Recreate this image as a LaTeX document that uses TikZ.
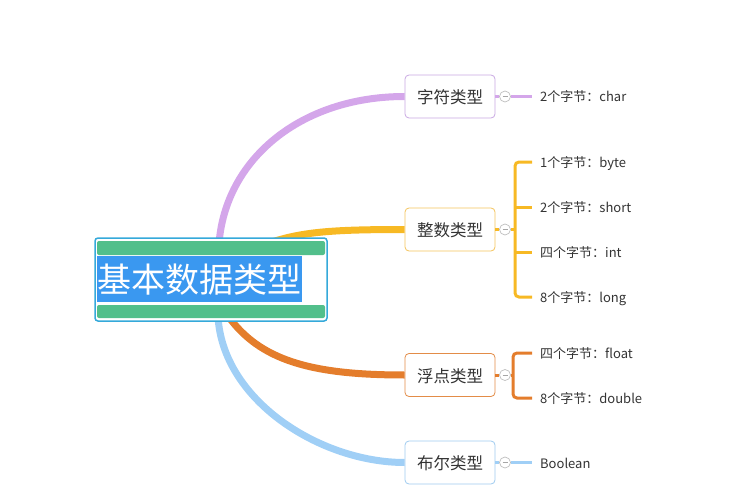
\documentclass[tikz,border=0pt]{standalone}
\usepackage{fontspec}
\setmainfont{Noto Sans CJK SC}
\usetikzlibrary{backgrounds}
\definecolor{purp}{HTML}{D4A6EA}
\definecolor{purpb}{HTML}{C9A8E2}
\definecolor{yel}{HTML}{F7B924}
\definecolor{yelb}{HTML}{F4C45C}
\definecolor{ora}{HTML}{E47D2C}
\definecolor{orab}{HTML}{E38C48}
\definecolor{lblue}{HTML}{A0CFF6}
\definecolor{lblueb}{HTML}{9FCBF0}
\definecolor{rootborder}{HTML}{35A9DA}
\definecolor{rootgreen}{HTML}{52BF8B}
\definecolor{rootblue}{HTML}{3A98F0}
\definecolor{textgray}{HTML}{333333}
\tikzset{
  typebox/.style={draw=#1, line width=0.8pt, fill=white, rounded corners=4pt,
    minimum width=90pt, minimum height=43pt, inner sep=0pt,
    text height=16pt, text depth=2pt,
    font=\fontsize{16.5}{18}\selectfont, text=textgray},
  leaf/.style={anchor=west, inner sep=0pt, text height=13pt, text depth=2pt,
    font=\fontsize{13}{15}\selectfont, text=textgray},
  branch/.style={line width=7pt, draw=#1},
  twig/.style={line width=3pt, draw=#1},
  toggle/.style={circle, draw=gray!50, fill=white, minimum size=11pt, inner sep=0pt, line width=0.7pt,
    path picture={\draw[gray!70, line width=0.6pt] ([xshift=-2.5pt]path picture bounding box.center) -- ([xshift=2.5pt]path picture bounding box.center);}}
}
\begin{document}
\begin{tikzpicture}[x=1pt,y=-1pt]
\useasboundingbox (0,0) rectangle (745,495);
% root
\node[draw=rootborder, line width=1.5pt, fill=white, rounded corners=3pt,
  minimum width=232pt, minimum height=83pt, inner sep=0pt] (root) at (211,279.5) {};
\fill[rootgreen, rounded corners=2pt] (97,241) rectangle (325,255);
\fill[rootgreen, rounded corners=2pt] (97,305) rectangle (325,318);
\node[fill=rootblue, text=white, inner sep=0pt, minimum width=205pt, minimum height=46pt,
  text height=30pt, text depth=3.2pt,
  font=\fontsize{34}{36}\selectfont] (rootlabel) at (199.5,279) {基本数据类型};
% type boxes
\node[typebox=purpb] (t1) at (450,96.5) {字符类型};
\node[typebox=yelb] (t2) at (450,229.5) {整数类型};
\node[typebox=orab] (t3) at (450,375) {浮点类型};
\node[typebox=lblueb] (t4) at (450,462.5) {布尔类型};
% toggles
\node[toggle] (g1) at (505,96.5) {};
\node[toggle] (g2) at (505,229.5) {};
\node[toggle] (g3) at (505,375) {};
\node[toggle] (g4) at (505,462.5) {};
% leaves
\node[leaf] (c1) at (540,96.5) {2个字节：char};
\node[leaf] (i1) at (540,162) {1个字节：byte};
\node[leaf] (i2) at (540,207) {2个字节：short};
\node[leaf] (i3) at (540,252) {四个字节：int};
\node[leaf] (i4) at (540,297) {8个字节：long};
\node[leaf] (f1) at (540,353) {四个字节：float};
\node[leaf] (f2) at (540,398) {8个字节：double};
\node[leaf] (b1) at (540,462.5) {Boolean};
\begin{scope}[on background layer]
  \draw[branch=purp] (219,244) .. controls (225,160) and (300,96.5) .. (t1.west);
  \draw[branch=yel] (266,244) .. controls (300,232) and (330,229.5) .. (t2.west);
  \draw[branch=ora] (228,316) .. controls (260,360) and (310,375) .. (t3.west);
  \draw[branch=lblue] (218,316) .. controls (222,400) and (320,462.5) .. (t4.west);
\end{scope}
% small connectors
\draw[twig=purp] (t1.east) -- (g1.west);
\draw[twig=purp] (g1.east) -- ([xshift=-8pt]c1.west);
\draw[twig=yel] (t2.east) -- (g2.west);
\draw[twig=yel] (g2.east) -- ([xshift=-25pt]g2.east -| i1.west);
\draw[twig=yel, rounded corners=4pt] ([xshift=-8pt]i1.west) -| ([xshift=-25pt]i4.west) -- ([xshift=-8pt]i4.west);
\draw[twig=yel] ([xshift=-25pt]i2.west) -- ([xshift=-8pt]i2.west);
\draw[twig=yel] ([xshift=-25pt]i3.west) -- ([xshift=-8pt]i3.west);
\draw[twig=ora] (t3.east) -- (g3.west);
\draw[twig=ora] (g3.east) -- ([xshift=-27pt]g3.east -| f1.west);
\draw[twig=ora, rounded corners=4pt] ([xshift=-8pt]f1.west) -| ([xshift=-27pt]f2.west) -- ([xshift=-8pt]f2.west);
\draw[twig=lblue] (t4.east) -- (g4.west);
\draw[twig=lblue] (g4.east) -- ([xshift=-8pt]b1.west);
\end{tikzpicture}
\end{document}
